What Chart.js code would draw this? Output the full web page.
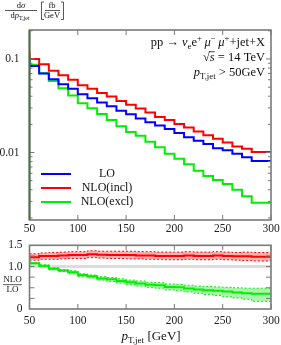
<!DOCTYPE html>
<html>
<head>
<meta charset="utf-8">
<script src="https://cdn.jsdelivr.net/npm/chart.js@4.4.1/dist/chart.umd.min.js"></script>
<style>
  html, body { margin: 0; padding: 0; background: #fff; }
  #wrap { position: relative; width: 281px; height: 345px; }
  #c1 { position: absolute; left: 0; top: 0; }
  #c2 { position: absolute; left: 0; top: 232px; }
</style>
</head>
<body>
<div id="wrap">
  <canvas id="c1" width="281" height="232"></canvas>
  <canvas id="c2" width="281" height="113"></canvas>
</div>
<script>
// pT,jet bin edges (GeV), 10 GeV bins
const binEdges = [50, 60, 70, 80, 90, 100, 110, 120, 130, 140, 150, 160, 170, 180, 190, 200, 210, 220, 230, 240, 250, 260, 270, 280, 290, 300];

// dsigma/dpT [fb/GeV], one value per bin
const lo      = [0.100, 0.084, 0.070, 0.0607, 0.0537, 0.0479, 0.042, 0.038, 0.0342, 0.0313, 0.0279, 0.0257, 0.0231, 0.0211, 0.0194, 0.0178, 0.0162, 0.0146, 0.0134, 0.0123, 0.0111, 0.0106, 0.0097, 0.0089, 0.0081];
const nloIncl = [0.1197, 0.100, 0.0878, 0.075, 0.067, 0.060, 0.0524, 0.0479, 0.0434, 0.0396, 0.0356, 0.0325, 0.0295, 0.0267, 0.024, 0.0223, 0.0202, 0.0185, 0.0168, 0.0153, 0.0140, 0.0128, 0.0116, 0.0110, 0.0101];
const nloExcl = [0.113, 0.087, 0.0704, 0.058, 0.0487, 0.0406, 0.0337, 0.0298, 0.0258, 0.0223, 0.0191, 0.0166, 0.0151, 0.0130, 0.0114, 0.0097, 0.0086, 0.0075, 0.0064, 0.0056, 0.0051, 0.0046, 0.0040, 0.0034, 0.0029];

// NLO/LO ratio with scale band
const ratioIncl   = [1.22, 1.22, 1.25, 1.25, 1.26, 1.27, 1.27, 1.29, 1.28, 1.27, 1.27, 1.27, 1.26, 1.26, 1.25, 1.25, 1.25, 1.26, 1.25, 1.25, 1.26, 1.25, 1.24, 1.24, 1.23];
const ratioInclHi = [1.30, 1.30, 1.32, 1.33, 1.34, 1.35, 1.35, 1.37, 1.36, 1.36, 1.36, 1.36, 1.35, 1.35, 1.34, 1.34, 1.34, 1.35, 1.34, 1.34, 1.35, 1.34, 1.33, 1.34, 1.33];
const ratioInclLo = [1.15, 1.15, 1.17, 1.17, 1.18, 1.19, 1.19, 1.21, 1.20, 1.19, 1.19, 1.18, 1.18, 1.17, 1.17, 1.16, 1.16, 1.17, 1.16, 1.16, 1.17, 1.16, 1.15, 1.14, 1.13];
const ratioExcl   = [1.15, 1.08, 1.02, 0.945, 0.905, 0.867, 0.80, 0.77, 0.72, 0.70, 0.66, 0.63, 0.60, 0.57, 0.56, 0.52, 0.51, 0.48, 0.46, 0.44, 0.43, 0.41, 0.39, 0.37, 0.36];
const ratioExclHi = [1.17, 1.10, 1.04, 0.97, 0.93, 0.90, 0.83, 0.80, 0.76, 0.74, 0.71, 0.68, 0.66, 0.63, 0.62, 0.59, 0.58, 0.56, 0.54, 0.53, 0.52, 0.51, 0.50, 0.49, 0.49];
const ratioExclLo = [1.13, 1.06, 0.99, 0.92, 0.88, 0.83, 0.76, 0.73, 0.68, 0.65, 0.61, 0.57, 0.54, 0.51, 0.49, 0.45, 0.43, 0.40, 0.37, 0.34, 0.32, 0.29, 0.26, 0.23, 0.18];

const xTicks = [50, 100, 150, 200, 250, 300];
const yTopLabels = [0.01, 0.1];
const yTopMinor = [0.002, 0.003, 0.004, 0.005, 0.006, 0.007, 0.008, 0.009, 0.02, 0.03, 0.04, 0.05, 0.06, 0.07, 0.08, 0.09, 0.2];
const yBotLabels = [0, 1.0, 1.5];
const yBotTicks = [0.25, 0.5, 0.75, 1.0, 1.25];

const FONT = '"Liberation Serif", "DejaVu Serif", serif';
const BLUE = '#0000ff', RED = '#ff0000', GREEN = '#00ee00';

function steps(vals) {
  // last edge repeats the last bin so the step closes at 300
  return binEdges.map((x, i) => ({ x, y: vals[Math.min(i, vals.length - 1)] }));
}

// text with italic / sub / sup pieces
function drawRuns(ctx, runs, x, y, size, align) {
  let w = 0;
  runs.forEach(r => {
    const s = (r.s === 'sub' || r.s === 'sup') ? size * 0.7 : size;
    r.font = (r.i ? 'italic ' : '') + s + 'px ' + FONT;
    ctx.font = r.font;
    r.w = ctx.measureText(r.t).width;
    w += r.w;
  });
  let cx = align === 'right' ? x - w : align === 'center' ? x - w / 2 : x;
  ctx.textAlign = 'left';
  ctx.textBaseline = 'middle';
  runs.forEach(r => {
    ctx.font = r.font;
    const dy = r.s === 'sub' ? size * 0.3 : r.s === 'sup' ? -size * 0.35 : 0;
    ctx.fillText(r.t, cx, y + dy);
    if (r.over) {
      ctx.beginPath();
      ctx.moveTo(cx - 1, y - size * 0.5);
      ctx.lineTo(cx + r.w, y - size * 0.5);
      ctx.lineWidth = 0.8;
      ctx.stroke();
    }
    cx += r.w;
  });
}

function drawFrame(chart, xVals, yMajor, yMinor, leftColor) {
  const { ctx, chartArea: a, scales } = chart;
  ctx.save();
  ctx.strokeStyle = '#7a7a7a';
  ctx.lineWidth = 1;
  ctx.beginPath();
  xVals.forEach(v => {
    const px = scales.x.getPixelForValue(v);
    ctx.moveTo(px, a.bottom); ctx.lineTo(px, a.bottom - 5);
    ctx.moveTo(px, a.top); ctx.lineTo(px, a.top + 5);
  });
  yMajor.forEach(v => {
    const py = scales.y.getPixelForValue(v);
    ctx.moveTo(a.left, py); ctx.lineTo(a.left + 5, py);
    ctx.moveTo(a.right, py); ctx.lineTo(a.right - 5, py);
  });
  yMinor.forEach(v => {
    const py = scales.y.getPixelForValue(v);
    ctx.moveTo(a.left, py); ctx.lineTo(a.left + 3, py);
    ctx.moveTo(a.right, py); ctx.lineTo(a.right - 3, py);
  });
  ctx.stroke();
  ctx.lineWidth = 1.6;
  ctx.strokeRect(a.left, a.top, a.right - a.left, a.bottom - a.top);
  if (leftColor) {
    ctx.strokeStyle = leftColor;
    ctx.lineWidth = 2;
    ctx.beginPath();
    ctx.moveTo(a.left, a.top); ctx.lineTo(a.left, a.bottom);
    ctx.stroke();
  }
  ctx.restore();
}

const topDecor = {
  id: 'topDecor',
  afterDatasetsDraw(chart) {
    const ctx = chart.ctx;
    drawFrame(chart, xTicks, yTopLabels, yTopMinor, '#4c6e42');
    ctx.save();
    ctx.fillStyle = '#111';
    ctx.strokeStyle = '#111';

    // legend
    chart.data.datasets.forEach((ds, i) => {
      const y = 174 + 14 * i;
      ctx.strokeStyle = ds.borderColor;
      ctx.lineWidth = 2;
      ctx.beginPath(); ctx.moveTo(41, y); ctx.lineTo(71, y); ctx.stroke();
      ctx.fillStyle = '#111';
      ctx.font = '12px ' + FONT;
      ctx.textAlign = 'center'; ctx.textBaseline = 'middle';
      ctx.fillText(ds.label, 107, y);
    });

    // process labels
    ctx.fillStyle = '#111'; ctx.strokeStyle = '#111';
    const gap = { t: '\u2009' };
    drawRuns(ctx, [
      { t: 'pp \u2192 ' }, { t: '\u03bd', i: true }, { t: 'e', s: 'sub' }, { t: 'e' }, { t: '+', s: 'sup' }, gap,
      { t: '\u03bc', i: true }, { t: '\u2212', s: 'sup' }, gap, { t: '\u03bc', i: true }, { t: '+', s: 'sup' }, { t: '+jet+X' }
    ], 265, 43, 12.5, 'right');
    drawRuns(ctx, [{ t: '\u221a' }, { t: 's', i: true, over: true }, { t: ' = 14 TeV' }], 265, 58, 12.5, 'right');
    drawRuns(ctx, [{ t: 'p', i: true }, { t: 'T,jet', s: 'sub' }, { t: ' > 50GeV' }], 265, 73, 12.5, 'right');

    // y axis title
    drawRuns(ctx, [{ t: 'd' }, { t: '\u03c3', i: true }], 21, 6, 8.5, 'center');
    drawRuns(ctx, [{ t: 'd' }, { t: 'p', i: true }, { t: 'T,jet', s: 'sub' }], 20, 15.5, 8.5, 'center');
    drawRuns(ctx, [{ t: 'fb' }], 52, 6, 8.5, 'center');
    drawRuns(ctx, [{ t: 'GeV' }], 52, 15.5, 8.5, 'center');
    ctx.lineWidth = 0.7;
    ctx.beginPath();
    ctx.moveTo(5, 10.5); ctx.lineTo(37, 10.5);
    ctx.moveTo(45, 10.5); ctx.lineTo(60, 10.5);
    ctx.moveTo(44, 2); ctx.lineTo(41.5, 2); ctx.lineTo(41.5, 19.5); ctx.lineTo(44, 19.5);
    ctx.moveTo(61, 2); ctx.lineTo(63.5, 2); ctx.lineTo(63.5, 19.5); ctx.lineTo(61, 19.5);
    ctx.stroke();
    ctx.restore();
  }
};

const botDecor = {
  id: 'botDecor',
  beforeDatasetsDraw(chart) {
    const { ctx, chartArea: a, scales } = chart;
    const py = scales.y.getPixelForValue(1.0);
    ctx.save();
    ctx.strokeStyle = '#dcdcdc';
    ctx.lineWidth = 3;
    ctx.beginPath(); ctx.moveTo(a.left, py); ctx.lineTo(a.right, py); ctx.stroke();
    ctx.restore();
  },
  afterDatasetsDraw(chart) {
    const ctx = chart.ctx;
    drawFrame(chart, xTicks, yBotTicks, [], null);
    ctx.save();
    ctx.fillStyle = '#111'; ctx.strokeStyle = '#111';
    drawRuns(ctx, [{ t: 'NLO' }], 12.5, 48, 9, 'center');
    drawRuns(ctx, [{ t: 'LO' }], 12.5, 57.5, 9, 'center');
    ctx.lineWidth = 0.7;
    ctx.beginPath(); ctx.moveTo(3, 52.7); ctx.lineTo(22, 52.7); ctx.stroke();
    drawRuns(ctx, [{ t: 'p', i: true }, { t: 'T,jet', s: 'sub' }, { t: ' [GeV]' }], 151, 105, 13, 'center');
    ctx.restore();
  }
};

function xScale(height, padding) {
  return {
    type: 'linear', min: 50, max: 300,
    grid: { display: false, drawTicks: false }, border: { display: false },
    afterBuildTicks: s => { s.ticks = xTicks.map(v => ({ value: v })); },
    afterFit: s => { s.height = height; s.paddingLeft = 0; s.paddingRight = 0; },
    ticks: { font: { family: FONT, size: 11.5 }, color: '#222', padding, maxRotation: 0, autoSkip: false }
  };
}

const line = (label, vals, color) => ({
  label, data: steps(vals), borderColor: color, borderWidth: 2,
  stepped: 'after', pointRadius: 0, fill: false
});
const edge = (vals, color, fill) => ({
  data: steps(vals), borderColor: color, borderWidth: 1, borderDash: [2, 2],
  stepped: 'after', pointRadius: 0, fill: fill ? '+1' : false, backgroundColor: fill
});

new Chart(document.getElementById('c1'), {
  type: 'line',
  data: {
    datasets: [
      line('LO', lo, BLUE),
      line('NLO(incl)', nloIncl, RED),
      line('NLO(excl)', nloExcl, GREEN)
    ]
  },
  options: {
    responsive: false, animation: false,
    layout: { padding: { left: 0, right: 10, top: 30, bottom: 0 } },
    plugins: { legend: { display: false }, tooltip: { enabled: false } },
    scales: {
      x: xScale(12, 2),
      y: {
        type: 'logarithmic', min: 0.0019, max: 0.204,
        grid: { display: false, drawTicks: false }, border: { display: false },
        afterBuildTicks: s => { s.ticks = yTopLabels.map(v => ({ value: v })); },
        afterFit: s => { s.width = 29.5; s.paddingTop = 0; s.paddingBottom = 0; },
        ticks: { font: { family: FONT, size: 11.5 }, color: '#222', padding: 10, callback: v => String(v) }
      }
    }
  },
  plugins: [topDecor]
});

new Chart(document.getElementById('c2'), {
  type: 'line',
  data: {
    datasets: [
      line('incl', ratioIncl, RED),
      line('excl', ratioExcl, GREEN),
      edge(ratioInclHi, RED, 'rgba(255,0,0,0.3)'),
      edge(ratioInclLo, RED, null),
      edge(ratioExclHi, GREEN, 'rgba(0,225,0,0.32)'),
      edge(ratioExclLo, GREEN, null)
    ]
  },
  options: {
    responsive: false, animation: false,
    layout: { padding: { left: 0, right: 10, top: 13.3, bottom: 0 } },
    plugins: { legend: { display: false }, tooltip: { enabled: false } },
    scales: {
      x: xScale(36, 5),
      y: {
        type: 'linear', min: 0, max: 1.5,
        grid: { display: false, drawTicks: false }, border: { display: false },
        afterBuildTicks: s => { s.ticks = yBotLabels.map(v => ({ value: v })); },
        afterFit: s => { s.width = 29.5; s.paddingTop = 0; s.paddingBottom = 0; },
        ticks: { font: { family: FONT, size: 11.5 }, color: '#222', padding: 7, callback: v => v === 0 ? '0' : v.toFixed(1) }
      }
    }
  },
  plugins: [botDecor]
});
</script>
</body>
</html>
